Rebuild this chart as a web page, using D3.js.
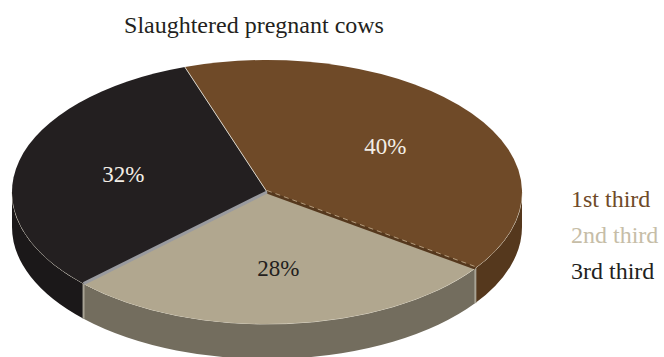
<!DOCTYPE html>
<html>
<head>
<meta charset="utf-8">
<script src="https://cdn.jsdelivr.net/npm/d3@7/dist/d3.min.js"></script>
<style>
  html, body { margin: 0; padding: 0; background: #ffffff; }
  svg { display: block; }
  text { font-family: "Liberation Serif", "DejaVu Serif", serif; }
</style>
</head>
<body>
<svg id="chart" width="664" height="357"></svg>
<script>
// Chart data
const title = "Slaughtered pregnant cows";
const categories = ["1st third", "2nd third", "3rd third"];
const values = [40, 28, 32];
const topColors = ["#6f4a28", "#b1a78f", "#231f20"];
const sideColors = ["#55381d", "#736d5e", "#1b1819"];
const legendColors = ["#6f4a28", "#c6bda7", "#231f20"];
const labelColors = ["#f3eee6", "#231f20", "#f3eee6"];

const svg = d3.select("#chart");

// Pie geometry (tilted ellipse with a raised rim)
const cx = 267, cy = 192, rx = 255, ry = 132, depth = 35;
const startAngle = -0.328;

const pie = d3.pie()
  .sort(null)
  .value(d => d)
  .startAngle(startAngle)
  .endAngle(startAngle + 2 * Math.PI);
const arcs = pie(values);

const px = a => cx + rx * Math.sin(a);
const py = a => cy - ry * Math.cos(a);

// Outer walls: only the front half (angles between 90° and 270°) faces the viewer
const sides = svg.append("g");
arcs.forEach((d, i) => {
  const a0 = d.startAngle, a1 = d.endAngle;
  const segs = [[a0, a1], [a0 + 2 * Math.PI, a1 + 2 * Math.PI]];
  segs.forEach(([s0, s1]) => {
    const s = Math.max(s0, Math.PI / 2), e = Math.min(s1, 3 * Math.PI / 2);
    if (e <= s) return;
    const large = (e - s) > Math.PI ? 1 : 0;
    const wall = `M${px(s)},${py(s)} A${rx},${ry} 0 ${large} 1 ${px(e)},${py(e)}`
      + ` L${px(e)},${py(e) + depth}`
      + ` A${rx},${ry} 0 ${large} 0 ${px(s)},${py(s) + depth} Z`;
    sides.append("path").attr("d", wall).attr("fill", sideColors[i]);
    // pale highlight along the front rim
    sides.append("path")
      .attr("d", `M${px(s)},${py(s)} A${rx},${ry} 0 ${large} 1 ${px(e)},${py(e)}`)
      .attr("fill", "none").attr("stroke", "#e2dccd").attr("stroke-width", 1);
  });
});

// Vertical edges where slices meet on the front wall
arcs.forEach(d => {
  const a = d.startAngle;
  const n = ((a % (2 * Math.PI)) + 2 * Math.PI) % (2 * Math.PI);
  if (n > Math.PI / 2 && n < 3 * Math.PI / 2) {
    sides.append("line")
      .attr("x1", px(a)).attr("y1", py(a))
      .attr("x2", px(a)).attr("y2", py(a) + depth)
      .attr("stroke", "#a7a294").attr("stroke-width", 2);
  }
});

// Top faces
const tops = svg.append("g");
arcs.forEach((d, i) => {
  const a0 = d.startAngle, a1 = d.endAngle;
  const large = (a1 - a0) > Math.PI ? 1 : 0;
  tops.append("path")
    .attr("d", `M${cx},${cy} L${px(a0)},${py(a0)} A${rx},${ry} 0 ${large} 1 ${px(a1)},${py(a1)} Z`)
    .attr("fill", topColors[i]);
});

// Seams between slices on the top face
const seamStyle = [
  { stroke: "#d9d3c7", width: 1 },   // 3rd → 1st
  { stroke: "#55381d", width: 3 },   // 1st → 2nd
  { stroke: "#9a9b9f", width: 3 }    // 2nd → 3rd
];
arcs.forEach((d, i) => {
  const a = d.startAngle;
  const st = seamStyle[i];
  tops.append("line")
    .attr("x1", cx).attr("y1", cy)
    .attr("x2", px(a)).attr("y2", py(a))
    .attr("stroke", st.stroke).attr("stroke-width", st.width);
  if (i === 1) {
    tops.append("line")
      .attr("x1", cx).attr("y1", cy - 1.5)
      .attr("x2", px(a)).attr("y2", py(a) - 1.5)
      .attr("stroke", "#c9b293").attr("stroke-width", 0.8)
      .attr("stroke-dasharray", "5 4");
  }
});

// Percentage labels
const labelR = 0.58;
arcs.forEach((d, i) => {
  const m = (d.startAngle + d.endAngle) / 2;
  svg.append("text")
    .attr("x", cx + labelR * rx * Math.sin(m))
    .attr("y", cy - labelR * ry * Math.cos(m))
    .attr("dy", "0.35em")
    .attr("text-anchor", "middle")
    .attr("font-size", 23)
    .attr("fill", labelColors[i])
    .text(d3.format(".0%")(d.value / d3.sum(values)));
});

// Title
svg.append("text")
  .attr("x", 254).attr("y", 33)
  .attr("text-anchor", "middle")
  .attr("font-size", 24)
  .attr("fill", "#231f20")
  .text(title);

// Legend
const legend = svg.append("g");
categories.forEach((c, i) => {
  legend.append("text")
    .attr("x", 571).attr("y", 207 + i * 36)
    .attr("font-size", 24)
    .attr("fill", legendColors[i])
    .text(c);
});
</script>
</body>
</html>
